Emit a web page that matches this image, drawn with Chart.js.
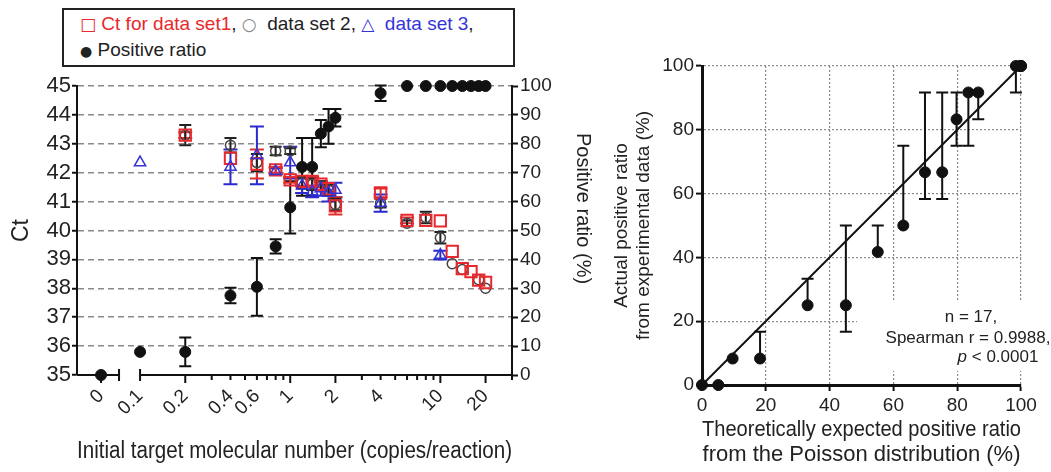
<!DOCTYPE html>
<html>
<head>
<meta charset="utf-8">
<title>Ct and positive ratio</title>
<script src="https://cdn.jsdelivr.net/npm/chart.js@4.4.1/dist/chart.umd.min.js"></script>
<style>
  html, body { margin: 0; padding: 0; background: #fff; }
  #wrap { position: relative; width: 1051px; height: 472px; overflow: hidden; background: #fff; }
  #leftChart { position: absolute; left: 0; top: 0; }
  #rightChart { position: absolute; left: 600px; top: 0; }
  #legend {
    position: absolute; left: 62px; top: 8px; width: 433px; height: 50px;
    border: 2px solid #222; padding: 1px 0 4px 16px; background: #fff;
    font: 19px "Liberation Sans", Arial, sans-serif; line-height: 25px; color: #222;
    white-space: nowrap;
  }
  #legend .s { font-family: "DejaVu Sans", sans-serif; font-size: 17px; }
  #legend .dot { font-size: 14px; }
  #legend .r { color: #e8282c; }
  #legend .b { color: #3434d6; }
  #legend .g { color: #888; }
</style>
</head>
<body>
<div id="wrap">
  <canvas id="leftChart" width="600" height="472"></canvas>
  <canvas id="rightChart" width="451" height="472"></canvas>
  <div id="legend">
    <div><span class="r"><span class="s">&#9633;</span> Ct for data set1</span>, <span class="g s">&#9675;</span>&nbsp; data set 2, <span class="b"><span class="s">&#9651;</span>&nbsp; data set 3</span>,</div>
    <div><span class="s dot">&#9679;</span> Positive ratio</div>
  </div>
</div>
<script>
// ---- left panel data (copies/reaction, Ct, error) ----
const set1X   = [0.2, 0.4, 0.6, 0.8, 1, 1.2, 1.4, 1.6, 1.8, 2, 4, 6, 8, 10, 12, 14, 16, 18, 20];
const set1Ct  = [43.3, 42.5, 42.3, 42.1, 41.75, 41.7, 41.7, 41.6, 41.45, 40.85, 41.3, 40.35, 40.35, 40.33, 39.28, 38.68, 38.58, 38.28, 38.2];
const set1Err = [0.1, 0, 0.5, 0.1, 0.1, 0.15, 0.15, 0.1, 0.1, 0.3, 0.15, 0.1, 0, 0, 0, 0, 0, 0, 0];

const set2X   = [0.2, 0.4, 0.6, 0.8, 1, 1.2, 1.4, 1.6, 1.8, 2, 4, 6, 8, 10, 12, 14, 18, 20];
const set2Ct  = [43.3, 42.95, 42.35, 42.75, 42.75, 41.65, 41.6, 41.55, 41.4, 40.9, 40.95, 40.25, 40.45, 39.75, 38.85, 38.65, 38.3, 38.0];
const set2Err = [0.35, 0.25, 0.3, 0.15, 0.1, 0.2, 0.2, 0.15, 0.2, 0.2, 0.15, 0.1, 0.2, 0.2, 0, 0, 0, 0];

const set3X   = [0.1, 0.4, 0.6, 0.8, 1, 1.2, 1.4, 1.6, 1.8, 2, 4, 10];
const set3Ct  = [42.35, 42.2, 42.6, 42.05, 42.35, 41.55, 41.35, 41.45, 41.3, 41.4, 40.95, 39.15];
const set3Err = [0, 0.6, 1.0, 0.1, 0.55, 0.25, 0.2, 0.25, 0.3, 0.25, 0.3, 0.15];

const ratioX   = [0, 0.1, 0.2, 0.4, 0.6, 0.8, 1, 1.2, 1.4, 1.6, 1.8, 2, 4, 6, 8, 10, 12, 14, 16, 18, 20];
const ratioPct = [0, 8, 8, 27.5, 30.5, 44.5, 58, 72, 72, 83.5, 86, 89, 97.5, 100, 100, 100, 100, 100, 100, 100, 100];
const ratioErr = [0, 0, 5, 2.7, 10, 2.5, 9, 10, 10, 4.7, 6, 3, 2.7, 0, 0, 0, 0, 0, 0, 0, 0];

const xTickVals   = [0, 0.1, 0.2, 0.3, 0.4, 0.5, 0.6, 0.7, 0.8, 0.9, 1, 2, 3, 4, 5, 6, 7, 8, 9, 10, 20, 30];
const xTickLabels = ['0', '0.1', '0.2', '', '0.4', '', '0.6', '', '', '', '1', '2', '', '4', '', '', '', '', '', '10', '20', ''];
const xMajor      = [0, 0.2, 1, 2, 10, 20];

// ---- right panel data (theoretical %, actual %, error down / up) ----
const theoPct   = [0, 5.1, 9.6, 18.2, 33.1, 45.1, 55.1, 63.1, 69.9, 75.3, 79.8, 83.5, 86.6, 98.4, 99.8, 100, 100];
const actualPct = [0, 0, 8.3, 8.3, 25, 25, 41.7, 50, 66.7, 66.7, 83.3, 91.7, 91.7, 100, 100, 100, 100];
const errDown   = [0, 0, 0, 0, 0, 8.3, 0, 0, 8.4, 8.4, 8.3, 16.7, 8.4, 8.3, 0, 0, 0];
const errUp     = [0, 0, 0, 8.4, 8.3, 25, 8.3, 25, 25, 25, 8.4, 0, 0, 0, 0, 0, 0];
const fitX = [0, 100];
const fitY = [0, 100];
const noteLines = ['n = 17,', 'Spearman r = 0.9988,', '< 0.0001'];

// log axis with a broken segment holding the zero point
const ZERO_POS = -1.26, X_MIN = -1.42, BREAK_END = -1.14;
const lx = v => v === 0 ? ZERO_POS : Math.log10(v);

const FONT = '"Liberation Sans", Arial, sans-serif';
Chart.defaults.font.family = FONT;
Chart.defaults.color = '#222';

const pts = (xs, ys, f) => xs.map((x, i) => ({ x: f ? f(x) : x, y: ys[i] }));

// draws vertical error bars from errLow / errHigh stored on each dataset
const errorBars = {
    id: 'errorBars',
    beforeDatasetsDraw(chart) {
        const ctx = chart.ctx;
        chart.data.datasets.forEach((ds, di) => {
            if (!ds.errLow) return;
            const meta = chart.getDatasetMeta(di);
            const ys = chart.scales[meta.yAxisID];
            ctx.save();
            ctx.strokeStyle = ds.errColor;
            ctx.lineWidth = ds.errWidth || 1.5;
            meta.data.forEach((pt, i) => {
                const lo = ds.errLow[i], hi = ds.errHigh[i];
                if (!lo && !hi) return;
                const v = ds.data[i].y;
                const y1 = ys.getPixelForValue(v + hi), y2 = ys.getPixelForValue(v - lo);
                const c = ds.capHalf || 6;
                ctx.beginPath();
                ctx.moveTo(pt.x, y1); ctx.lineTo(pt.x, y2);
                if (hi) { ctx.moveTo(pt.x - c, y1); ctx.lineTo(pt.x + c, y1); }
                if (lo) { ctx.moveTo(pt.x - c, y2); ctx.lineTo(pt.x + c, y2); }
                ctx.stroke();
            });
            ctx.restore();
        });
    }
};

// x axis line of the left panel, with the break after zero, plus the right axis title
const brokenAxis = {
    id: 'brokenAxis',
    beforeDatasetsDraw(chart) {
        const xs = chart.scales.x, ctx = chart.ctx, a = chart.chartArea;
        const y = a.bottom;
        const pBreak = xs.getPixelForValue(BREAK_END), pStart = xs.getPixelForValue(-1);
        ctx.save();
        ctx.strokeStyle = '#111';
        ctx.lineWidth = 2;
        ctx.beginPath();
        ctx.moveTo(a.left, y); ctx.lineTo(pBreak, y);
        ctx.moveTo(pStart, y); ctx.lineTo(a.right, y);
        [pBreak, pStart].forEach(p => { ctx.moveTo(p, y - 6); ctx.lineTo(p, y + 6); });
        xTickVals.forEach(t => {
            const p = xs.getPixelForValue(lx(t));
            ctx.moveTo(p, y);
            ctx.lineTo(p, y + (xMajor.includes(t) ? 8 : 5));
        });
        ctx.stroke();

        // "Positive ratio (%)" sits a little above the middle of the axis
        ctx.translate(a.right + 71, (a.top + a.bottom) / 2 - 22);
        ctx.rotate(Math.PI / 2);
        ctx.fillStyle = '#222';
        ctx.font = '20px ' + FONT;
        ctx.textAlign = 'center';
        ctx.textBaseline = 'middle';
        ctx.fillText('Positive ratio (%)', 0, 0);
        ctx.restore();
    }
};

const statsNote = {
    id: 'statsNote',
    beforeDatasetsDraw(chart) {
        const ctx = chart.ctx, a = chart.chartArea;
        ctx.save();
        ctx.fillStyle = '#fff';
        ctx.fillRect(a.right - 164, a.bottom - 84, 192, 70);
        ctx.fillStyle = '#222';
        ctx.font = '17px ' + FONT;
        ctx.textBaseline = 'middle';
        ctx.textAlign = 'center';
        ctx.fillText(noteLines[0], a.right - 50, a.bottom - 68);
        ctx.fillText(noteLines[1], a.right - 53, a.bottom - 47);
        // italic p followed by the rest of the line
        ctx.textAlign = 'left';
        ctx.font = 'italic 17px ' + FONT;
        const pw = ctx.measureText('p ').width;
        ctx.font = '17px ' + FONT;
        const rw = ctx.measureText(noteLines[2]).width;
        const x0 = a.right - 23 - (pw + rw) / 2;
        ctx.font = 'italic 17px ' + FONT;
        ctx.fillText('p ', x0, a.bottom - 28);
        ctx.font = '17px ' + FONT;
        ctx.fillText(noteLines[2], x0 + pw, a.bottom - 28);
        ctx.restore();
    }
};

const hideAt = v0 => c => (c.tick && Math.abs(c.tick.value - v0) < 1e-9) ? 'rgba(0,0,0,0)' : '#8a8a8a';

new Chart(document.getElementById('leftChart'), {
    type: 'scatter',
    data: {
        datasets: [
            {
                label: 'Positive ratio', yAxisID: 'y2', order: 0, clip: false,
                data: pts(ratioX, ratioPct, lx),
                pointStyle: 'circle', pointRadius: 5.5, backgroundColor: '#111', borderColor: '#111', borderWidth: 1,
                errLow: ratioErr, errHigh: ratioErr, errColor: '#111', errWidth: 2, capHalf: 6
            },
            {
                label: 'data set 3', order: 1, clip: false,
                data: pts(set3X, set3Ct, lx),
                pointStyle: 'triangle', pointRadius: 6.5, backgroundColor: 'rgba(0,0,0,0)', borderColor: '#3434d6', borderWidth: 1.5,
                errLow: set3Err, errHigh: set3Err, errColor: '#2a2ad0', errWidth: 2, capHalf: 7
            },
            {
                label: 'Ct for data set1', order: 2, clip: false,
                data: pts(set1X, set1Ct, lx),
                pointStyle: 'rect', pointRadius: 8, backgroundColor: 'rgba(0,0,0,0)', borderColor: '#e8282c', borderWidth: 2,
                errLow: set1Err, errHigh: set1Err, errColor: '#e03030', errWidth: 2, capHalf: 7
            },
            {
                label: 'data set 2', order: 3, clip: false,
                data: pts(set2X, set2Ct, lx),
                pointStyle: 'circle', pointRadius: 5, backgroundColor: 'rgba(0,0,0,0)', borderColor: '#444', borderWidth: 1.5,
                errLow: set2Err, errHigh: set2Err, errColor: '#222', errWidth: 2, capHalf: 6
            }
        ]
    },
    options: {
        responsive: false,
        animation: false,
        layout: { padding: { top: 86, left: 0, right: 0, bottom: 0 } },
        plugins: { legend: { display: false }, tooltip: { enabled: false } },
        scales: {
            x: {
                type: 'linear', min: X_MIN, max: Math.log10(30),
                afterBuildTicks: s => { s.ticks = xTickVals.map(v => ({ value: lx(v) })); },
                afterFit: s => { s.height = 97; s.paddingLeft = 0; s.paddingRight = 0; },
                grid: { display: false, drawTicks: false },
                border: { display: false },
                ticks: {
                    autoSkip: false, minRotation: 45, maxRotation: 45, padding: 10,
                    font: { size: 19 }, color: '#222',
                    callback: (v, i) => xTickLabels[i]
                },
                title: {
                    display: true, text: 'Initial target molecular number (copies/reaction)',
                    font: { size: 23 }, color: '#222', padding: { top: 0, bottom: 7 }
                }
            },
            y: {
                position: 'left', min: 35, max: 45,
                afterFit: s => { s.width = 77; s.paddingTop = 0; s.paddingBottom = 0; },
                ticks: { stepSize: 1, autoSkip: false, font: { size: 22 }, color: '#222', padding: 1 },
                grid: { color: hideAt(35), lineWidth: 1.5, tickColor: '#111', tickLength: 5, tickWidth: 2, tickBorderDash: [] },
                border: { color: '#111', width: 2, dash: [6, 4] },
                title: { display: true, text: 'Ct', font: { size: 23 }, color: '#222', padding: { top: 8, bottom: 0 } }
            },
            y2: {
                position: 'right', min: 0, max: 100,
                afterFit: s => { s.width = 88; s.paddingTop = 0; s.paddingBottom = 0; },
                ticks: { stepSize: 10, autoSkip: false, font: { size: 19 }, color: '#222', padding: 2 },
                grid: { drawOnChartArea: false, tickColor: '#111', tickLength: 6, tickWidth: 2 },
                border: { color: '#111', width: 2 },
                title: { display: false }
            }
        }
    },
    plugins: [errorBars, brokenAxis]
});

new Chart(document.getElementById('rightChart'), {
    type: 'scatter',
    data: {
        datasets: [
            {
                label: 'Poisson fit', order: 1, clip: false,
                data: pts(fitX, fitY),
                showLine: true, pointRadius: 0, borderColor: '#111', borderWidth: 2
            },
            {
                label: 'Actual vs theoretical', order: 0, clip: false,
                data: pts(theoPct, actualPct),
                pointStyle: 'circle', pointRadius: 5.5, backgroundColor: '#111', borderColor: '#111', borderWidth: 1,
                errLow: errDown, errHigh: errUp, errColor: '#111', errWidth: 2, capHalf: 6
            }
        ]
    },
    options: {
        responsive: false,
        animation: false,
        layout: { padding: { top: 66, left: 0, right: 30, bottom: 0 } },
        plugins: { legend: { display: false }, tooltip: { enabled: false } },
        scales: {
            x: {
                type: 'linear', min: 0, max: 100,
                afterFit: s => { s.height = 87; s.paddingLeft = 0; s.paddingRight = 0; },
                ticks: { stepSize: 20, font: { size: 19 }, color: '#222', padding: 3, maxRotation: 0 },
                grid: { color: hideAt(0), lineWidth: 1.2, tickColor: '#111', tickLength: 6, tickWidth: 2, tickBorderDash: [] },
                border: { color: '#111', width: 3, dash: [2, 2] },
                title: {
                    display: true, text: ['Theoretically expected positive ratio', 'from the Poisson distribution (%)'],
                    font: { size: 22, lineHeight: 1.15 }, color: '#222', padding: { top: 0, bottom: 4 }
                }
            },
            y: {
                min: 0, max: 100,
                afterFit: s => { s.width = 102; s.paddingTop = 0; s.paddingBottom = 0; },
                ticks: { stepSize: 20, font: { size: 19 }, color: '#222', padding: 2 },
                grid: { color: hideAt(0), lineWidth: 1.2, tickColor: '#111', tickLength: 6, tickWidth: 2, tickBorderDash: [] },
                border: { color: '#111', width: 3, dash: [2, 2] },
                title: {
                    display: true, text: ['Actual positive ratio', 'from experimental data (%)'],
                    font: { size: 19 }, color: '#222', padding: { top: 10, bottom: 0 }
                }
            }
        }
    },
    plugins: [errorBars, statsNote]
});
</script>
</body>
</html>
